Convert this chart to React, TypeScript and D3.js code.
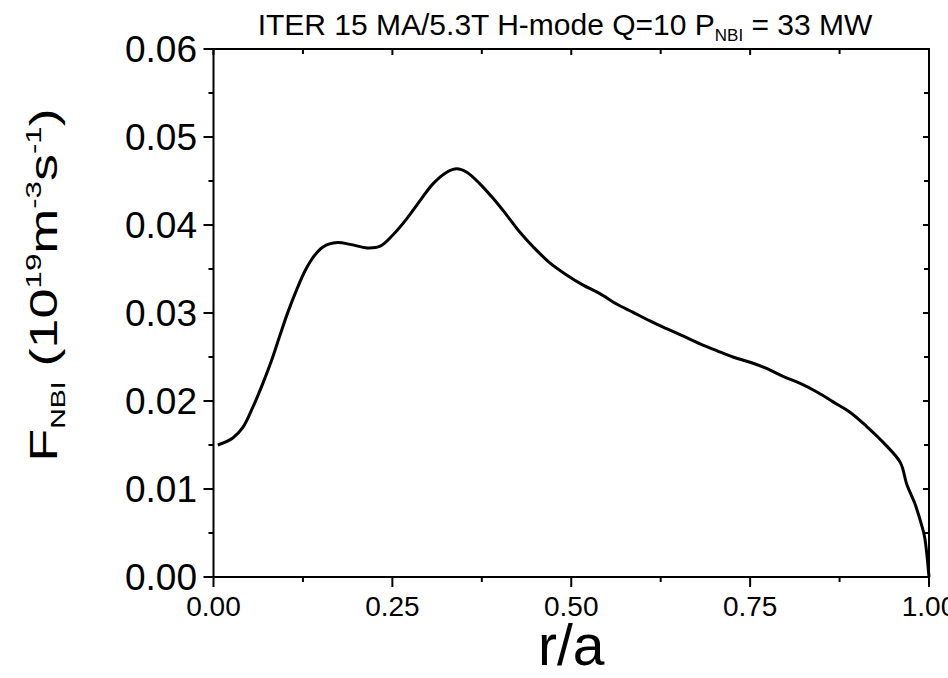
import React from "react";
import * as d3 from "d3";

const rValues = [0.006, 0.027, 0.041, 0.055, 0.069, 0.082, 0.093, 0.104, 0.117, 0.128, 0.139, 0.153, 0.173, 0.191, 0.215, 0.233, 0.251, 0.27, 0.289, 0.307, 0.326, 0.34, 0.354, 0.372, 0.391, 0.41, 0.428, 0.447, 0.47, 0.494, 0.516, 0.54, 0.564, 0.586, 0.61, 0.634, 0.656, 0.68, 0.704, 0.726, 0.75, 0.773, 0.796, 0.82, 0.844, 0.866, 0.89, 0.913, 0.936, 0.96, 0.969, 0.98, 0.99, 0.994, 1.0];
const fValues = [0.015, 0.0158, 0.017, 0.0193, 0.022, 0.0248, 0.0275, 0.0301, 0.0328, 0.0348, 0.0363, 0.0375, 0.038, 0.0378, 0.0374, 0.0376, 0.0389, 0.0407, 0.0428, 0.0447, 0.046, 0.0464, 0.046, 0.0447, 0.043, 0.0411, 0.0392, 0.0375, 0.0357, 0.0343, 0.0332, 0.0322, 0.031, 0.0301, 0.0291, 0.0282, 0.0274, 0.0265, 0.0257, 0.025, 0.0244, 0.0237, 0.0228, 0.022, 0.021, 0.0199, 0.0187, 0.0171, 0.0153, 0.013, 0.0105, 0.0084, 0.0058, 0.0045, 0.0];

const xTicks = [0, 0.25, 0.5, 0.75, 1.0];
const xTickLabels = ["0.00", "0.25", "0.50", "0.75", "1.00"];
const xMinor = [0.125, 0.375, 0.625, 0.875];
const yTicks = [0, 0.01, 0.02, 0.03, 0.04, 0.05, 0.06];
const yTickLabels = ["0.00", "0.01", "0.02", "0.03", "0.04", "0.05", "0.06"];
const yMinor = [0.005, 0.015, 0.025, 0.035, 0.045, 0.055];

const W = 948, H = 678;
const L = 213.5, R = 929, T = 49, B = 577;
const FONT = "'Liberation Sans', Arial, sans-serif";

export default function App() {
  const x = d3.scaleLinear().domain([0, 1]).range([L, R]);
  const y = d3.scaleLinear().domain([0, 0.06]).range([B, T]);
  const data = rValues.map((r, i) => [r, fValues[i]] as [number, number]);
  const line = d3.line<[number, number]>().x(d => x(d[0])).y(d => y(d[1])).curve(d3.curveCatmullRom.alpha(0.5));
  const sw = 2;
  return (
    <svg width={W} height={H} style={{ position: "absolute", left: 0, top: 0, background: "#fff" }} fontFamily={FONT}>
      <rect x={0} y={0} width={W} height={H} fill="#fff" />
      <rect x={L} y={T} width={R - L} height={B - T} fill="none" stroke="#000" strokeWidth={sw} />
      {yTicks.map((v, i) => (
        <g key={"yt" + i}>
          <line x1={L - 10} x2={L} y1={y(v)} y2={y(v)} stroke="#000" strokeWidth={sw} />
          <line x1={R - 6} x2={R} y1={y(v)} y2={y(v)} stroke="#000" strokeWidth={sw} />
          <text x={197} y={y(v)} dy="0.36em" fontSize={37} textAnchor="end">{yTickLabels[i]}</text>
        </g>
      ))}
      {yMinor.map((v, i) => (
        <g key={"ym" + i}>
          <line x1={L - 5} x2={L} y1={y(v)} y2={y(v)} stroke="#000" strokeWidth={sw} />
          <line x1={R - 5} x2={R} y1={y(v)} y2={y(v)} stroke="#000" strokeWidth={sw} />
        </g>
      ))}
      {xTicks.map((v, i) => (
        <g key={"xt" + i}>
          <line x1={x(v)} x2={x(v)} y1={B} y2={B + 10} stroke="#000" strokeWidth={sw} />
          <line x1={x(v)} x2={x(v)} y1={T} y2={T + 6} stroke="#000" strokeWidth={sw} />
          <text x={x(v)} y={616} fontSize={28} textAnchor="middle">{xTickLabels[i]}</text>
        </g>
      ))}
      {xMinor.map((v, i) => (
        <g key={"xm" + i}>
          <line x1={x(v)} x2={x(v)} y1={B} y2={B + 5} stroke="#000" strokeWidth={sw} />
          <line x1={x(v)} x2={x(v)} y1={T} y2={T + 5} stroke="#000" strokeWidth={sw} />
        </g>
      ))}
      <path d={line(data) || ""} fill="none" stroke="#000" strokeWidth={3} strokeLinejoin="round" />
      <text x={565} y={35} fontSize={30} textAnchor="middle">
        ITER 15 MA/5.3T H-mode Q=10 P<tspan fontSize={17} dy={6}>NBI</tspan><tspan dy={-6}> = 33 MW</tspan>
      </text>
      <text x={(L + R) / 2} y={665} fontSize={57} textAnchor="middle">r/a</text>
      <g transform={`translate(57, ${285}) rotate(-90) scale(1.42, 1)`}>
        <text x={0} y={0} fontSize={38} textAnchor="middle">
          F<tspan fontSize={20} dy={8}>NBI</tspan><tspan dy={-8}> (10</tspan><tspan fontSize={22} dy={-16}>19</tspan><tspan dy={16}>m</tspan><tspan fontSize={22} dy={-16}>-3</tspan><tspan dy={16}>s</tspan><tspan fontSize={22} dy={-16}>-1</tspan><tspan dy={16}>)</tspan>
        </text>
      </g>
    </svg>
  );
}
